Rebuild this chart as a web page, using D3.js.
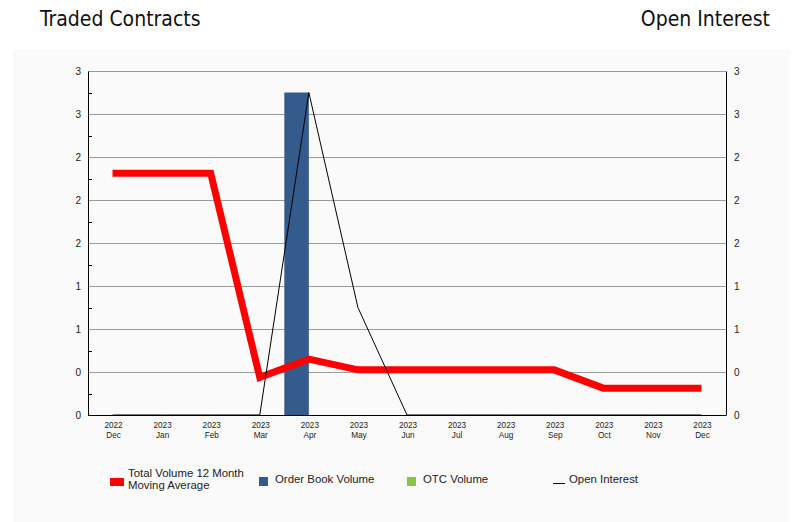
<!DOCTYPE html>
<html><head><meta charset="utf-8">
<script src="https://cdn.jsdelivr.net/npm/d3@7"></script>
<style>
body{margin:0;background:#fff;}
svg text{font-family:"Liberation Sans",Arial,sans-serif;}
</style>
</head><body><svg id="c" width="801" height="522"></svg>
<script>
const years = ["2022","2023","2023","2023","2023","2023","2023","2023","2023","2023","2023","2023","2023"];
const months = ["Dec","Jan","Feb","Mar","Apr","May","Jun","Jul","Aug","Sep","Oct","Nov","Dec"];
const orderBookVolume = [0,0,0,0,3,0,0,0,0,0,0,0,0];
const otcVolume = [0,0,0,0,0,0,0,0,0,0,0,0,0];
const movingAverage = [2.25,2.25,2.25,0.35,0.52,0.42,0.42,0.42,0.42,0.42,0.25,0.25,0.25];
const openInterest = [0,0,0,0,3,1,0,0,0,0,0,0,0];
const yTicks = [0,0.4,0.8,1.2,1.6,2.0,2.4,2.8,3.2];
const yMinorTicks = [0.2,0.6,1.0,1.4,1.8,2.2,2.6,3.0];
const legendLabels = [["Total Volume 12 Month","Moving Average"],["Order Book Volume"],["OTC Volume"],["Open Interest"]];

const svg = d3.select("#c");
const L = 88, R = 726, T = 71, B = 415;
const idx = d3.range(months.length);
const x = d3.scaleBand().domain(idx).range([L, R]).padding(0);
const bw = x.bandwidth();
const cx = i => x(i) + bw / 2;
const y = d3.scaleLinear().domain([0, 3.2]).range([B, T]);
const fmt = d3.format(".0f");

// background
svg.append("rect").attr("x", 13).attr("y", 50).attr("width", 777).attr("height", 472).attr("fill", "#fafafa");

// titles
svg.append("text").attr("x", 40).attr("y", 26).attr("font-size", 21).style("font-family", "'DejaVu Sans Condensed','DejaVu Sans',sans-serif").attr("fill", "#111").text("Traded Contracts");
svg.append("text").attr("x", 770).attr("y", 26).attr("text-anchor", "end").attr("font-size", 21).style("font-family", "'DejaVu Sans Condensed','DejaVu Sans',sans-serif").attr("fill", "#111").text("Open Interest");

// gridlines
svg.append("g").selectAll("line").data(yTicks.slice(1)).join("line")
  .attr("x1", L).attr("x2", R).attr("y1", d => y(d)).attr("y2", d => y(d))
  .attr("stroke", "#9a9a9a").attr("stroke-width", 1).attr("shape-rendering", "crispEdges");

// left axis
const yl = svg.append("g").attr("transform", `translate(${L},0)`)
  .call(d3.axisLeft(y).tickValues(yTicks).tickFormat(fmt).tickSize(0).tickPadding(7));
yl.select(".domain").attr("stroke", "#000");
yl.selectAll("text").attr("font-size", 10).attr("fill", "#222");
svg.append("g").selectAll("line").data(yMinorTicks).join("line")
  .attr("x1", L).attr("x2", L + 4).attr("y1", d => Math.round(y(d)) + 0.5).attr("y2", d => Math.round(y(d)) + 0.5)
  .attr("stroke", "#000");

// right axis
const yr = svg.append("g").attr("transform", `translate(${R},0)`)
  .call(d3.axisRight(y).tickValues(yTicks).tickFormat(fmt).tickSize(0).tickPadding(8));
yr.select(".domain").attr("stroke", "#000");
yr.selectAll("text").attr("font-size", 10).attr("fill", "#222");

// bottom axis
svg.append("line").attr("x1", L).attr("x2", R).attr("y1", B + 0.5).attr("y2", B + 0.5).attr("stroke", "#000");
const xl = svg.append("g").selectAll("text").data(idx).join("text")
  .attr("x", i => cx(i) + 1).attr("y", B + 13).attr("text-anchor", "middle").attr("font-size", 8.2).attr("fill", "#222");
xl.append("tspan").attr("x", i => cx(i) + 1).text(i => years[i]);
xl.append("tspan").attr("x", i => cx(i) + 1).attr("dy", 10).text(i => months[i]);

// bars
svg.append("g").selectAll("rect").data(idx).join("rect")
  .attr("x", i => x(i)).attr("width", bw / 2)
  .attr("y", i => y(orderBookVolume[i])).attr("height", i => B - y(orderBookVolume[i]))
  .attr("fill", "#335c8c");
svg.append("g").selectAll("rect").data(idx).join("rect")
  .attr("x", i => x(i) + bw / 2).attr("width", bw / 2)
  .attr("y", i => y(otcVolume[i])).attr("height", i => B - y(otcVolume[i]))
  .attr("fill", "#8bc34a");

// moving average line
svg.append("path").datum(idx)
  .attr("d", d3.line().x(i => cx(i)).y(i => y(movingAverage[i])))
  .attr("fill", "none").attr("stroke", "#ff0000").attr("stroke-width", 7).attr("stroke-linejoin", "miter");

// open interest line
svg.append("path").datum(idx)
  .attr("d", d3.line().x(i => cx(i)).y(i => y(openInterest[i])))
  .attr("fill", "none").attr("stroke", "#000").attr("stroke-width", 1);

// legend
const lg = svg.append("g").attr("font-size", 11.4).attr("fill", "#222");
lg.append("rect").attr("x", 110).attr("y", 478).attr("width", 14).attr("height", 8).attr("fill", "#ff0000");
const t0 = lg.append("text").attr("x", 128).attr("y", 477).attr("fill", "#222");
t0.append("tspan").attr("x", 128).text(legendLabels[0][0]);
t0.append("tspan").attr("x", 128).attr("dy", 12).text(legendLabels[0][1]);
lg.append("rect").attr("x", 259).attr("y", 477).attr("width", 9).attr("height", 9).attr("fill", "#335c8c");
lg.append("text").attr("x", 275).attr("y", 483).attr("fill", "#222").text(legendLabels[1][0]);
lg.append("rect").attr("x", 407).attr("y", 477).attr("width", 9).attr("height", 9).attr("fill", "#8bc34a");
lg.append("text").attr("x", 423).attr("y", 483).attr("fill", "#222").text(legendLabels[2][0]);
lg.append("line").attr("x1", 553).attr("x2", 565).attr("y1", 483.5).attr("y2", 483.5).attr("stroke", "#000");
lg.append("text").attr("x", 569).attr("y", 483).attr("fill", "#222").text(legendLabels[3][0]);
</script>
</body></html>
